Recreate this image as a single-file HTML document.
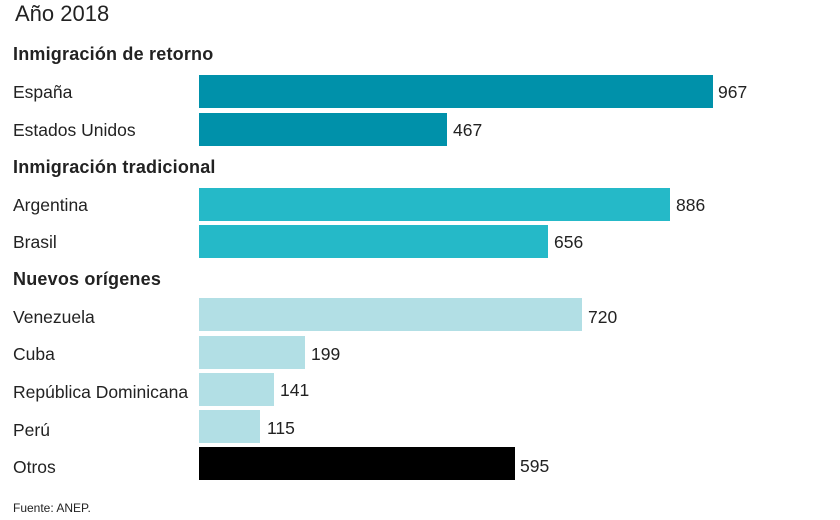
<!DOCTYPE html>
<html><head><meta charset="utf-8"><style>
body{margin:0;background:#fff;width:840px;height:520px;position:relative;overflow:hidden;font-family:"Liberation Sans",sans-serif;color:#222}
.t{position:absolute;white-space:nowrap}
.bar{position:absolute;left:199px;height:33px}
.h{font-weight:bold;font-size:18px;left:13px;letter-spacing:0.2px}
.l{font-size:17.5px;left:13px}
.v{font-size:17.5px}
</style></head><body>
<div class="t" style="left:15px;top:1px;font-size:22px">Año 2018</div>
<div class="t h" style="top:44px">Inmigración de retorno</div>
<div class="t l" style="top:82px">España</div>
<div class="bar" style="top:75px;width:514px;background:#0091aa"></div>
<div class="t v" style="left:718px;top:82px">967</div>
<div class="t l" style="top:120px">Estados Unidos</div>
<div class="bar" style="top:113px;width:248px;background:#0091aa"></div>
<div class="t v" style="left:453px;top:120px">467</div>
<div class="t h" style="top:157px">Inmigración tradicional</div>
<div class="t l" style="top:195px">Argentina</div>
<div class="bar" style="top:188px;width:471px;background:#25b9c8"></div>
<div class="t v" style="left:676px;top:195px">886</div>
<div class="t l" style="top:232px">Brasil</div>
<div class="bar" style="top:225px;width:349px;background:#25b9c8"></div>
<div class="t v" style="left:554px;top:232px">656</div>
<div class="t h" style="top:269px">Nuevos orígenes</div>
<div class="t l" style="top:307px">Venezuela</div>
<div class="bar" style="top:298px;width:383px;background:#b2dfe5"></div>
<div class="t v" style="left:588px;top:307px">720</div>
<div class="t l" style="top:344px">Cuba</div>
<div class="bar" style="top:336px;width:106px;background:#b2dfe5"></div>
<div class="t v" style="left:311px;top:344px">199</div>
<div class="t l" style="top:382px">República Dominicana</div>
<div class="bar" style="top:373px;width:75px;background:#b2dfe5"></div>
<div class="t v" style="left:280px;top:380px">141</div>
<div class="t l" style="top:420px">Perú</div>
<div class="bar" style="top:410px;width:61px;background:#b2dfe5"></div>
<div class="t v" style="left:267px;top:418px">115</div>
<div class="t l" style="top:457px">Otros</div>
<div class="bar" style="top:447px;width:316px;background:#000"></div>
<div class="t v" style="left:520px;top:456px">595</div>
<div class="t" style="left:13px;top:501px;font-size:12px">Fuente: ANEP.</div>
</body></html>
